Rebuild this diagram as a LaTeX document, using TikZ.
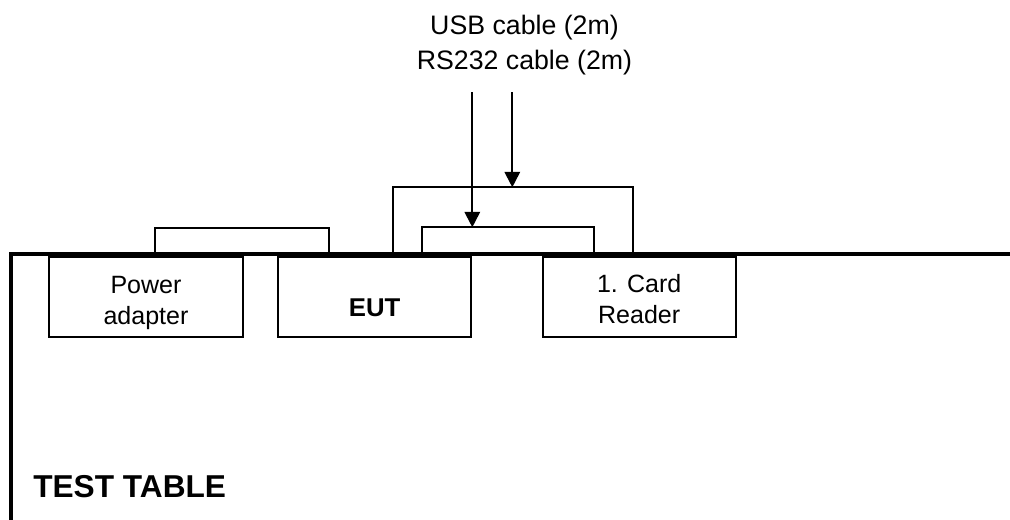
\documentclass[tikz,border=0pt]{standalone}
\usepackage{fontspec}
\setmainfont{Liberation Sans}
\usetikzlibrary{arrows.meta,calc}

\begin{document}
\begin{tikzpicture}[x=0.025cm,y=-0.025cm]
        \tikzset{unit/.style={draw, line width=1.4pt, minimum width=4.825cm, minimum height=2cm, inner sep=0pt},
                 cable/.style={line width=1.4pt, line join=miter},
                 feed/.style={-{Triangle[length=11pt, width=11pt]}, line width=1.4pt},
                 unittext/.style={align=center, inner sep=0pt, font=\fontsize{17.8}{22}\selectfont}}
        \useasboundingbox (0,0) rectangle (1010,519);
        % test table
        \draw[line width=2.8pt, line join=miter] (10.8,530) -- (10.8,254) -- (1020,254);
        \node[anchor=base west, inner sep=0pt, font=\bfseries\fontsize{22.5}{27}\selectfont] (table) at (33,497) {TEST TABLE};

        % units on the table
        \node[unit] (power) at (146,297.3) {};
        \node[unit] (eut) at (374.7,297.3) {};
        \node[unit] (reader) at (639.2,297.3) {};
        \node[unittext] (powertext) at (146,303) {Power\\adapter};
        \node[unittext, font=\bfseries\fontsize{18.3}{22}\selectfont] (euttext) at (374.7,307.3) {EUT};
        \node[unittext] (readertext) at (639.2,299.5) {1. Card\\Reader};

        % cables
        \draw[cable] ($(power.north)+(9,-3.3)$) -- ++(0,-24.7) -| ($(eut.north)+(-45.7,-3.3)$);
        \draw[cable] ($(eut.north)+(18,-3.3)$) -- ++(0,-65.7) coordinate (outertop) -| ($(reader.north)+(-6.5,-3.3)$);
        \draw[cable] ($(eut.north)+(47,-3.3)$) -- ++(0,-25.7) coordinate (innertop) -| ($(reader.north)+(-45.2,-3.3)$);

        % incoming cables
        \node[align=center, inner sep=0pt, font=\fontsize{19}{25.3}\selectfont] (cables) at (524.5,45.2) {USB cable (2m)\\RS232 cable (2m)};
        \coordinate (usbfeed) at (472.3,92);
        \coordinate (rsfeed) at (512.3,92);
        \draw[feed] (usbfeed) -- (usbfeed |- innertop);
        \draw[feed] (rsfeed) -- (rsfeed |- outertop);
\end{tikzpicture}
\end{document}
